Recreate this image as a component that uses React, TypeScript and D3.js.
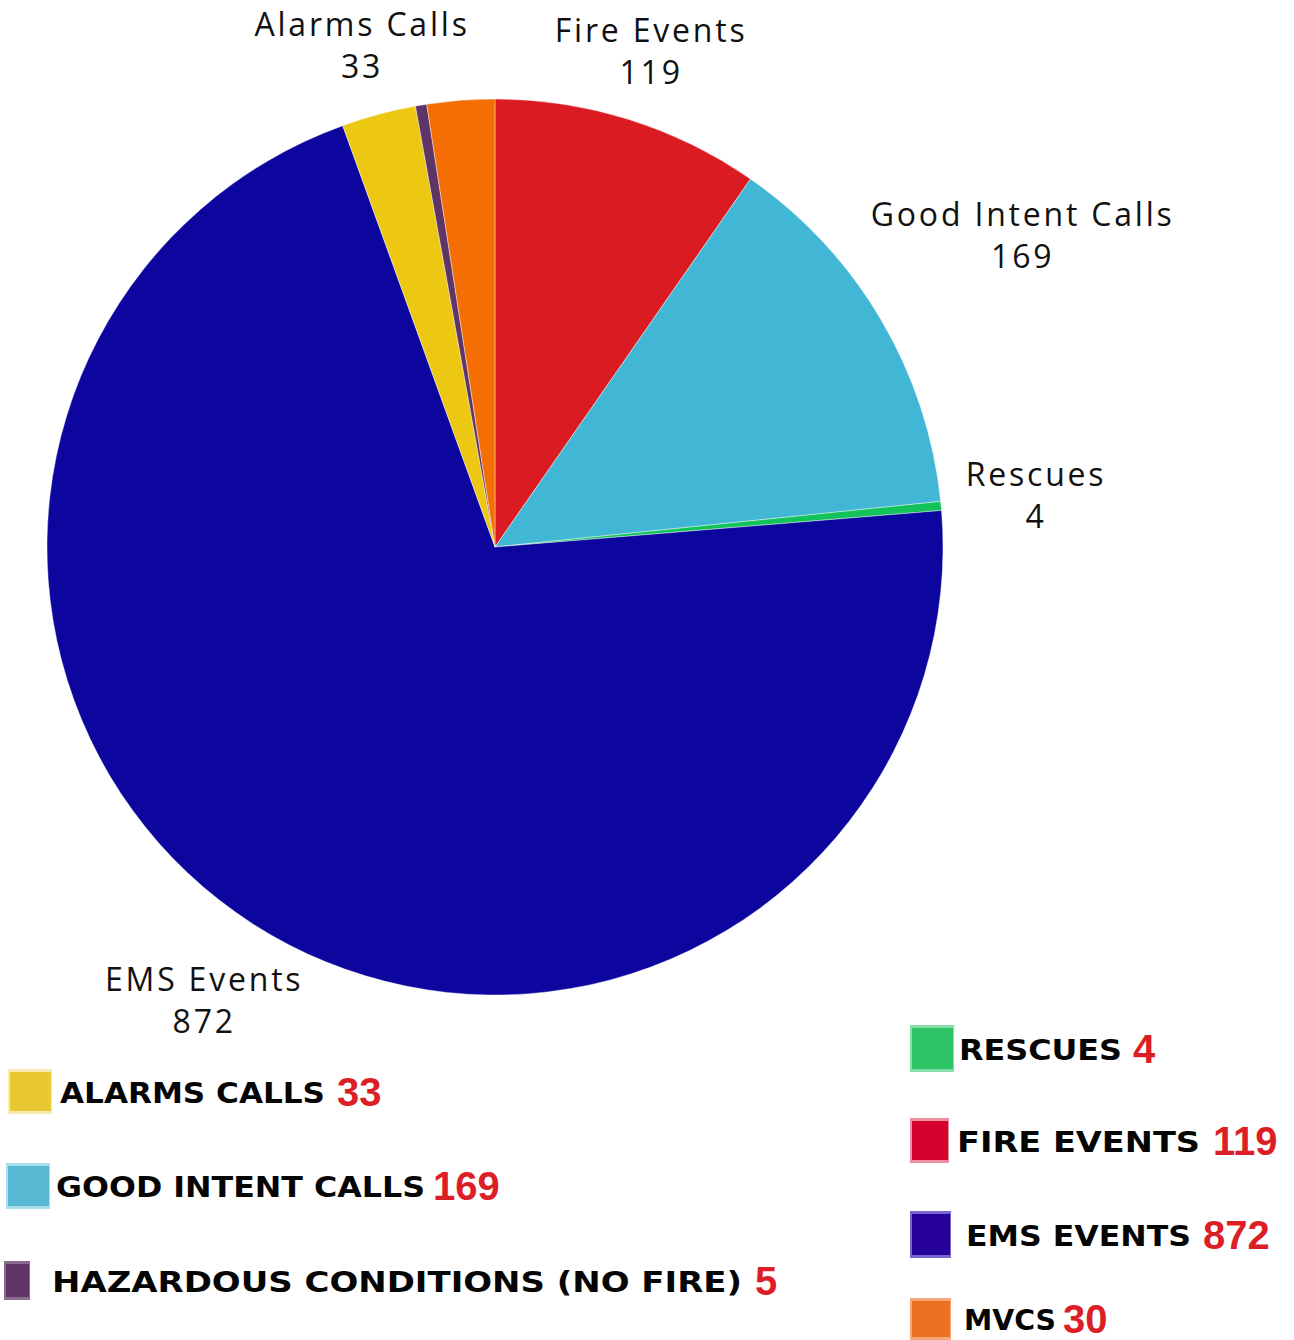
import React from 'react';
import * as d3 from 'd3';

// ---- data ----
const categories = ['Fire Events', 'Good Intent Calls', 'Rescues', 'EMS Events', 'Alarms Calls', 'Hazardous Conditions (No Fire)', 'MVCs'];
const values = [119, 169, 4, 872, 33, 5, 30];
const sliceColors = ['#da1b22', '#42b7d5', '#12c25a', '#0c059e', '#edc813', '#5e3566', '#f46e04'];
const labelShown = [true, true, true, true, true, false, false];

const legendNames = ['ALARMS CALLS', 'GOOD INTENT CALLS', 'HAZARDOUS CONDITIONS (NO FIRE)', 'RESCUES', 'FIRE EVENTS', 'EMS EVENTS', 'MVCS'];
const legendCategory = ['Alarms Calls', 'Good Intent Calls', 'Hazardous Conditions (No Fire)', 'Rescues', 'Fire Events', 'EMS Events', 'MVCs'];
const legendColors = ['#e8c931', '#58b8d4', '#5e3566', '#2ec466', '#d4002e', '#270099', '#ee7021'];
const legendBorders = ['#f7eab0', '#a9dcec', '#8a6b90', '#86dfa8', '#ec8fa3', '#7a66cc', '#f6a77a'];

// ---- layout (not data) ----
const W = 1294, H = 1340;
const CX = 495, CY = 547, R = 448;
const legendLayout = [
  { x: 8, y: 1069, w: 44, h: 45, tx: 60, tw: 265, nx: 337 },
  { x: 6, y: 1163, w: 44, h: 46, tx: 56, tw: 369, nx: 433 },
  { x: 4, y: 1261, w: 26, h: 39, tx: 52, tw: 690, nx: 755 },
  { x: 910, y: 1025, w: 44, h: 47, tx: 959, tw: 163, nx: 1133 },
  { x: 910, y: 1118, w: 39, h: 45, tx: 957, tw: 243, nx: 1213 },
  { x: 910, y: 1211, w: 41, h: 47, tx: 966, tw: 225, nx: 1203 },
  { x: 910, y: 1298, w: 41, h: 42, tx: 964, tw: 92, nx: 1063 },
];

const LABEL_FONT = '400 32px "Open Sans", "Noto Sans", sans-serif';
const LABEL_SPACING = 2.8;

function measure(text: string): number {
  if (typeof document === 'undefined') return text.length * 18;
  const c = document.createElement('canvas').getContext('2d');
  if (!c) return text.length * 18;
  c.font = LABEL_FONT;
  return c.measureText(text).width + text.length * LABEL_SPACING;
}

export default function App() {
  const pie = d3.pie<number>().sort(null).value((d) => d)(values);
  const arc = d3.arc<d3.PieArcDatum<number>>().innerRadius(0).outerRadius(R);
  const boxH = 40;
  const gap = 22;

  return (
    <svg width={W} height={H} style={{ position: 'absolute', left: 0, top: 0, background: '#fff' }}>
      <g transform={`translate(${CX},${CY})`}>
        {pie.map((p, i) => (
          <path key={i} d={arc(p) || ''} fill={sliceColors[i]} stroke="#ffffff" strokeWidth={0.4} />
        ))}
        {pie.map((p, i) => {
          if (!labelShown[i]) return null;
          const mid = (p.startAngle + p.endAngle) / 2;
          const sx = Math.sin(mid), sy = -Math.cos(mid);
          const w = Math.max(measure(categories[i]), measure(String(values[i])));
          const ext = Math.abs(sx) * w / 2 + Math.abs(sy) * boxH / 2;
          const d = R + gap + ext;
          const lx = sx * d + LABEL_SPACING / 2, ly = sy * d;
          return (
            <g key={'l' + i} style={{ font: LABEL_FONT, letterSpacing: `${LABEL_SPACING}px` }} fill="#111" textAnchor="middle">
              <text x={lx} y={ly - 11}>{categories[i]}</text>
              <text x={lx} y={ly + 31}>{values[i]}</text>
            </g>
          );
        })}
      </g>
      {legendNames.map((name, i) => {
        const L = legendLayout[i];
        const v = values[categories.indexOf(legendCategory[i])];
        const cy = L.y + L.h / 2;
        return (
          <g key={'g' + i}>
            <rect x={L.x} y={L.y} width={L.w} height={L.h} fill={legendBorders[i]} />
            <rect x={L.x + 2} y={L.y + 3} width={L.w - 3} height={L.h - 6} fill={legendColors[i]} />
            <text x={L.tx} y={cy + 11} textLength={L.tw} lengthAdjust="spacingAndGlyphs"
              style={{ font: '700 28px "DejaVu Sans", sans-serif' }} fill="#050505">{name}</text>
            <text x={L.nx} y={cy + 14} style={{ font: '700 40px "Liberation Sans", Arial, sans-serif' }} fill="#dc1f26">{v}</text>
          </g>
        );
      })}
    </svg>
  );
}
